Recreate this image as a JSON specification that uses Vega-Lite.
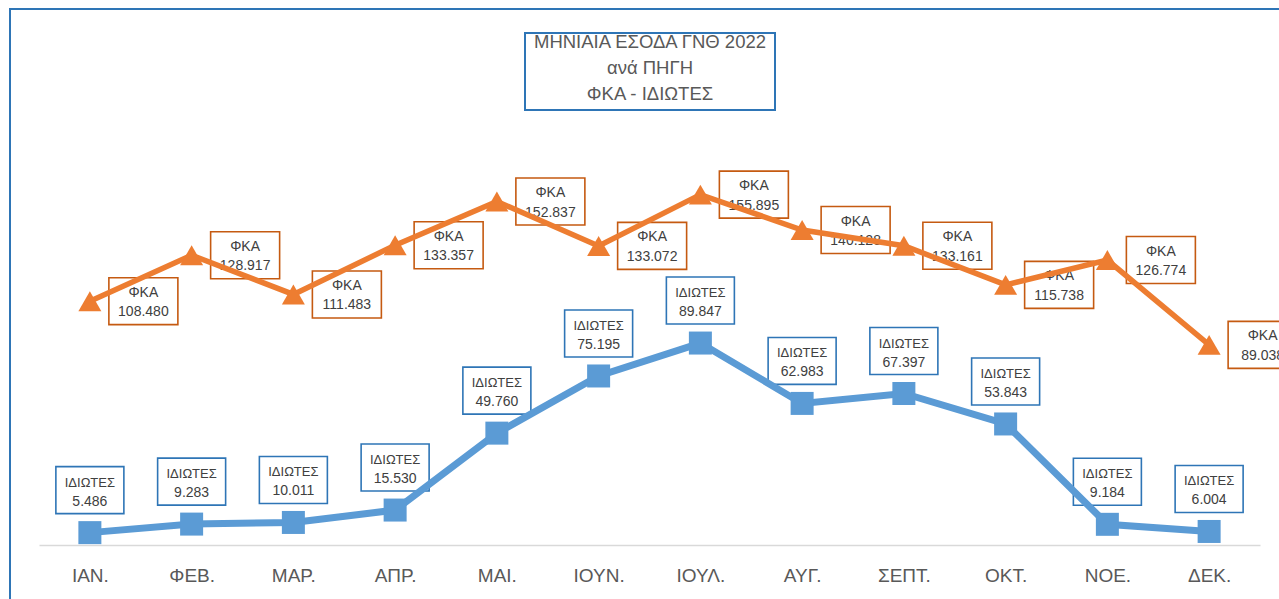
{
  "$schema": "https://vega.github.io/schema/vega-lite/v6.json",
  "autosize": "none",
  "width": 1280,
  "height": 600,
  "padding": {"left": 10, "top": 9, "right": 0, "bottom": 0},
  "background": "white",
  "config": {
    "view": {"stroke": "#2E75B6", "strokeWidth": 2},
    "font": "Liberation Sans",
    "axisX": {"domainColor": "#D9D9D9", "domainWidth": 1.5, "ticks": false, "tickSize": 0, "labelFontSize": 19, "labelColor": "#595959", "labelFont": "Liberation Sans", "labelPadding": 21, "offset": -64, "grid": false, "labelAngle": 0, "title": null}
  },
  "datasets": {
    "main": [
      {"month": "ΙΑΝ.", "series": "ΦΚΑ", "value": 108.480},
      {"month": "ΦΕΒ.", "series": "ΦΚΑ", "value": 128.917},
      {"month": "ΜΑΡ.", "series": "ΦΚΑ", "value": 111.483},
      {"month": "ΑΠΡ.", "series": "ΦΚΑ", "value": 133.357},
      {"month": "ΜΑΙ.", "series": "ΦΚΑ", "value": 152.837},
      {"month": "ΙΟΥΝ.", "series": "ΦΚΑ", "value": 133.072},
      {"month": "ΙΟΥΛ.", "series": "ΦΚΑ", "value": 155.895},
      {"month": "ΑΥΓ.", "series": "ΦΚΑ", "value": 140.128},
      {"month": "ΣΕΠΤ.", "series": "ΦΚΑ", "value": 133.161},
      {"month": "ΟΚΤ.", "series": "ΦΚΑ", "value": 115.738},
      {"month": "ΝΟΕ.", "series": "ΦΚΑ", "value": 126.774},
      {"month": "ΔΕΚ.", "series": "ΦΚΑ", "value": 89.038},
      {"month": "ΙΑΝ.", "series": "ΙΔΙΩΤΕΣ", "value": 5.486},
      {"month": "ΦΕΒ.", "series": "ΙΔΙΩΤΕΣ", "value": 9.283},
      {"month": "ΜΑΡ.", "series": "ΙΔΙΩΤΕΣ", "value": 10.011},
      {"month": "ΑΠΡ.", "series": "ΙΔΙΩΤΕΣ", "value": 15.530},
      {"month": "ΜΑΙ.", "series": "ΙΔΙΩΤΕΣ", "value": 49.760},
      {"month": "ΙΟΥΝ.", "series": "ΙΔΙΩΤΕΣ", "value": 75.195},
      {"month": "ΙΟΥΛ.", "series": "ΙΔΙΩΤΕΣ", "value": 89.847},
      {"month": "ΑΥΓ.", "series": "ΙΔΙΩΤΕΣ", "value": 62.983},
      {"month": "ΣΕΠΤ.", "series": "ΙΔΙΩΤΕΣ", "value": 67.397},
      {"month": "ΟΚΤ.", "series": "ΙΔΙΩΤΕΣ", "value": 53.843},
      {"month": "ΝΟΕ.", "series": "ΙΔΙΩΤΕΣ", "value": 9.184},
      {"month": "ΔΕΚ.", "series": "ΙΔΙΩΤΕΣ", "value": 6.004}
    ]
  },
  "data": {"name": "main"},
  "layer": [
    {
      "data": {"values": [{}]},
      "mark": {"type": "point", "shape": "M-1,-0.308H1V0.308H-1Z", "size": 62500, "filled": false, "stroke": "#2E75B6", "strokeWidth": 2, "opacity": 1, "x": {"expr": "width/2"}},
      "encoding": {
        "y": {"datum": 210.7, "type": "quantitative", "scale": {"domain": [-28.5, 238.5], "zero": false, "nice": false}, "axis": null}
      }
    },
    {
      "data": {"values": [{}]},
      "mark": {"type": "text", "text": ["ΜΗΝΙΑΙΑ ΕΣΟΔΑ ΓΝΘ 2022", "ανά ΠΗΓΗ", "ΦΚΑ - ΙΔΙΩΤΕΣ"], "lineHeight": 26, "fontSize": 18.5, "color": "#595959", "align": "center", "baseline": "middle", "x": {"expr": "width/2"}},
      "encoding": {
        "y": {"datum": 223.8, "type": "quantitative", "axis": null}
      }
    },
    {
      "transform": [{"filter": "datum.series === 'ΙΔΙΩΤΕΣ'"}],
      "mark": {"type": "point", "shape": "M-1,-0.691H1V0.691H-1Z", "size": 4624, "filled": true, "fill": "white", "stroke": "#2E75B6", "strokeWidth": 1.6, "opacity": 1, "yOffset": -42.5},
      "encoding": {
        "x": {"field": "month", "type": "ordinal", "scale": {"type": "point", "domain": ["ΙΑΝ.", "ΦΕΒ.", "ΜΑΡ.", "ΑΠΡ.", "ΜΑΙ.", "ΙΟΥΝ.", "ΙΟΥΛ.", "ΑΥΓ.", "ΣΕΠΤ.", "ΟΚΤ.", "ΝΟΕ.", "ΔΕΚ."], "range": [29, 1250], "padding": 0.5}},
        "y": {"field": "value", "type": "quantitative", "axis": null}
      }
    },
    {
      "transform": [{"filter": "datum.series === 'ΙΔΙΩΤΕΣ'"}],
      "mark": {"type": "text", "fontSize": 13, "color": "#404040", "align": "center", "baseline": "middle", "yOffset": -50},
      "encoding": {
        "x": {"field": "month", "type": "ordinal"},
        "y": {"field": "value", "type": "quantitative", "axis": null},
        "text": {"field": "series"}
      }
    },
    {
      "transform": [{"filter": "datum.series === 'ΙΔΙΩΤΕΣ'"}],
      "mark": {"type": "text", "fontSize": 14, "color": "#404040", "align": "center", "baseline": "middle", "yOffset": -31},
      "encoding": {
        "x": {"field": "month", "type": "ordinal"},
        "y": {"field": "value", "type": "quantitative", "axis": null},
        "text": {"field": "value", "type": "quantitative", "format": ".3f"}
      }
    },
    {
      "transform": [{"filter": "datum.series === 'ΦΚΑ'"}],
      "mark": {"type": "point", "shape": "M-1,-0.681H1V0.681H-1Z", "size": 4761, "filled": true, "fill": "white", "stroke": "#C55A11", "strokeWidth": 1.6, "opacity": 1, "xOffset": 53.5},
      "encoding": {
        "x": {"field": "month", "type": "ordinal"},
        "y": {"field": "value", "type": "quantitative", "axis": null}
      }
    },
    {
      "transform": [{"filter": "datum.series === 'ΦΚΑ'"}],
      "mark": {"type": "text", "fontSize": 14, "color": "#404040", "align": "center", "baseline": "middle", "xOffset": 53.5, "yOffset": -8.5},
      "encoding": {
        "x": {"field": "month", "type": "ordinal"},
        "y": {"field": "value", "type": "quantitative", "axis": null},
        "text": {"field": "series"}
      }
    },
    {
      "transform": [{"filter": "datum.series === 'ΦΚΑ'"}],
      "mark": {"type": "text", "fontSize": 14, "color": "#404040", "align": "center", "baseline": "middle", "xOffset": 53.5, "yOffset": 11},
      "encoding": {
        "x": {"field": "month", "type": "ordinal"},
        "y": {"field": "value", "type": "quantitative", "axis": null},
        "text": {"field": "value", "type": "quantitative", "format": ".3f"}
      }
    },
    {
      "transform": [{"filter": "datum.series === 'ΦΚΑ'"}],
      "mark": {"type": "line", "color": "#ED7D31", "strokeWidth": 5.5},
      "encoding": {
        "x": {"field": "month", "type": "ordinal"},
        "y": {"field": "value", "type": "quantitative", "axis": null}
      }
    },
    {
      "transform": [{"filter": "datum.series === 'ΙΔΙΩΤΕΣ'"}],
      "mark": {"type": "line", "color": "#5B9BD5", "strokeWidth": 7},
      "encoding": {
        "x": {"field": "month", "type": "ordinal"},
        "y": {"field": "value", "type": "quantitative", "axis": null}
      }
    },
    {
      "mark": {"type": "point", "filled": true, "opacity": 1, "size": 529},
      "encoding": {
        "x": {"field": "month", "type": "ordinal"},
        "y": {"field": "value", "type": "quantitative", "axis": null},
        "shape": {"field": "series", "type": "nominal", "scale": {"domain": ["ΦΚΑ", "ΙΔΙΩΤΕΣ"], "range": ["triangle-up", "square"]}, "legend": null},
        "color": {"field": "series", "type": "nominal", "scale": {"domain": ["ΦΚΑ", "ΙΔΙΩΤΕΣ"], "range": ["#ED7D31", "#5B9BD5"]}, "legend": null}
      }
    }
  ]
}
